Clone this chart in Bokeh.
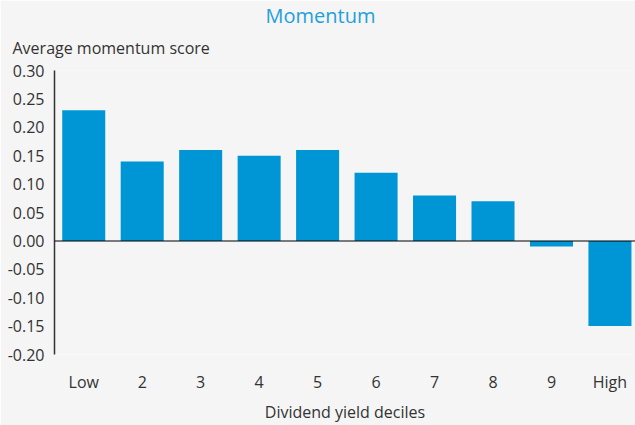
from bokeh.plotting import figure
from bokeh.models import Range1d, FixedTicker, Span, Title
from bokeh.embed import file_html
from bokeh.resources import INLINE

categories = ["Low", "2", "3", "4", "5", "6", "7", "8", "9", "High"]
scores = [0.23, 0.14, 0.16, 0.15, 0.16, 0.12, 0.08, 0.07, -0.01, -0.15]
y_ticks = [0.30, 0.25, 0.20, 0.15, 0.10, 0.05, 0.00, -0.05, -0.10, -0.15, -0.20]

FONT = "Open Sans"
TXT = "#333333"
BG = "#f5f5f5"

xs = list(range(len(categories)))

p = figure(width=635, height=425, output_backend="svg", toolbar_location=None,
           x_range=Range1d(-0.5, 9.437), y_range=Range1d(-0.20, 0.30),
           min_border_left=54, min_border_right=0, min_border_top=70, min_border_bottom=71)
p.background_fill_color = BG
p.border_fill_color = BG
p.outline_line_color = None
p.grid.visible = False

p.vbar(x=xs, top=scores, bottom=0, width=0.736, color="#0096d6", line_color=None)
p.add_layout(Span(location=0, dimension="width", line_color="black", line_alpha=0.5, line_width=2))

# y axis
ya = p.yaxis[0]
ya.ticker = FixedTicker(ticks=y_ticks)
ya.major_label_overrides = {t: f"{t:.2f}" for t in y_ticks}
ya.major_tick_line_color = None
ya.minor_tick_line_color = None
ya.major_tick_out = 0
ya.major_tick_in = 0
ya.axis_line_color = "#333333"
ya.axis_line_width = 1.5
ya.major_label_standoff = 10
ya.major_label_text_font = FONT
ya.major_label_text_font_size = "16px"
ya.major_label_text_color = TXT

# x axis
xa = p.xaxis[0]
xa.ticker = FixedTicker(ticks=xs)
xa.major_label_overrides = {i: c for i, c in zip(xs, categories)}
xa.axis_line_color = None
xa.major_tick_line_color = None
xa.minor_tick_line_color = None
xa.major_tick_out = 0
xa.major_tick_in = 0
xa.major_label_standoff = 16
xa.major_label_text_font = FONT
xa.major_label_text_font_size = "16px"
xa.major_label_text_color = TXT
xa.axis_label = "Dividend yield deciles"
xa.axis_label_text_font = FONT
xa.axis_label_text_font_size = "16px"
xa.axis_label_text_font_style = "normal"
xa.axis_label_text_color = TXT
xa.axis_label_standoff = 5

p.add_layout(Title(text="Average momentum score", align="left", offset=-42,
                   text_font=FONT, text_font_size="16px", text_font_style="normal",
                   text_color=TXT, standoff=23), "above")
p.add_layout(Title(text="Momentum", align="left", offset=211,
                   text_font=FONT, text_font_size="20px", text_font_style="normal",
                   text_color="#1ea0dc", standoff=-10), "above")

html = file_html(p, INLINE)
open("out.html", "w").write(html)
